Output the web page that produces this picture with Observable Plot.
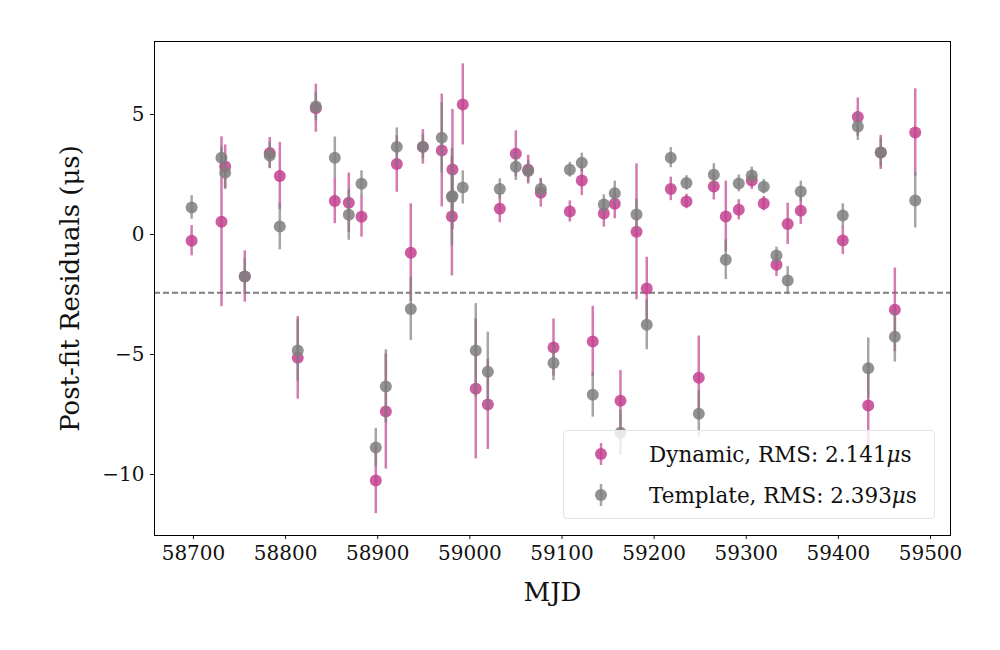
<!DOCTYPE html>
<html>
<head>
<meta charset="utf-8">
<script src="https://cdn.jsdelivr.net/npm/d3@7"></script>
<script src="https://cdn.jsdelivr.net/npm/@observablehq/plot@0.6"></script>
<style>
  body { margin: 0; background: #fff; }
  #wrap { position: relative; width: 1000px; height: 650px; font-family: "DejaVu Serif", serif; }
  #legend {
    position: absolute; left: 563px; top: 430px; width: 372px; height: 89px;
    background: rgba(255,255,255,0.8); border: 1px solid #e4e4e4; border-radius: 4px;
    box-sizing: border-box; font-family: "DejaVu Serif", serif; font-size: 21.5px; color: #111;
  }
  .row { position: absolute; left: 0; height: 40px; display: flex; align-items: center; }
  .row svg { position: absolute; left: 26px; }
  .row span { position: absolute; left: 85px; white-space: nowrap; }
</style>
</head>
<body>
<div id="wrap"><div id="chart"></div>
<div id="legend">
  <div class="row" style="top:3px"><svg width="22" height="40"><line x1="11" x2="11" y1="9" y2="31" stroke="#c2418f" stroke-opacity="0.7" stroke-width="2.5"/><circle cx="11" cy="20" r="6" fill="#c2418f" fill-opacity="0.85"/></svg><span>Dynamic, RMS: 2.141<i>μ</i>s</span></div>
  <div class="row" style="top:44px"><svg width="22" height="40"><line x1="11" x2="11" y1="9" y2="31" stroke="#7f7f7f" stroke-opacity="0.7" stroke-width="2.5"/><circle cx="11" cy="20" r="6" fill="#7f7f7f" fill-opacity="0.85"/></svg><span>Template, RMS: 2.393<i>μ</i>s</span></div>
</div>
</div>
<script>
const mjd = [58698, 58730.4, 58734.4, 58755.7, 58782.8, 58793.7, 58813.2, 58832.8, 58853.4, 58868.6,
  58882.4, 58897.9, 58908.8, 58920.7, 58935.9, 58949, 58969.5, 58981.1, 58980.5, 58992.3,
  59006.4, 59019.5, 59032.5, 59049.9, 59063.3, 59077, 59090.8, 59108.5, 59121.5, 59133.4,
  59145.4, 59157.3, 59163.5, 59180.9, 59192, 59218.1, 59235.1, 59248.5, 59264.8, 59277.8,
  59291.9, 59306, 59319, 59332.8, 59345, 59359.2, 59404.8, 59421.1, 59432.4, 59446,
  59461.3, 59483.4];
const dynRes = [-0.26, 0.53, 2.83, -1.75, 3.4, 2.44, -5.14, 5.26, 1.4, 1.32,
  0.74, -10.25, -7.375, 2.94, -0.76, 3.65, 3.5, 2.71, 0.75, 5.42,
  -6.43, -7.08, 1.07, 3.36, 2.7, 1.74, -4.71, 0.96, 2.25, -4.46,
  0.875, 1.28, -6.93, 0.11, -2.25, 1.9, 1.375, -5.97, 2.0, 0.75,
  1.03, 2.25, 1.29, -1.26, 0.44, 0.99, -0.25, 4.89, -7.125, 3.42,
  -3.14, 4.25];
const dynErr = [0.63, 3.54, 0.9, 1.07, 0.64, 1.4, 1.72, 1.0, 0.95, 1.24,
  0.85, 1.38, 2.4, 1.18, 2.04, 0.72, 2.35, 2.5, 2.48, 1.69,
  2.92, 1.875, 0.58, 0.96, 0.6, 0.6, 1.19, 0.44, 0.63, 1.47,
  0.57, 0.625, 1.26, 2.83, 1.3, 0.49, 0.3, 1.74, 0.56, 1.47,
  0.42, 0.37, 0.3, 0.49, 0.86, 0.57, 0.58, 0.8, 1.75, 0.71,
  1.74, 1.82];
const tmplRes = [1.125, 3.2, 2.57, -1.75, 3.29, 0.33, -4.83, 5.33, 3.2, 0.82,
  2.11, -8.875, -6.33, 3.65, -3.1, 3.65, 4.03, 1.6, 1.56, 1.96,
  -4.83, -5.72, 1.9, 2.82, 2.64, 1.9, -5.35, 2.7, 2.99, -6.68,
  1.25, 1.72, -8.26, 0.83, -3.76, 3.2, 2.15, -7.47, 2.49, -1.05,
  2.125, 2.46, 1.99, -0.875, -1.92, 1.79, 0.79, 4.5, -5.57, 3.42,
  -4.26, 1.42];
const tmplErr = [0.49, 0.45, 0.7, 0.75, 0.55, 0.97, 1.28, 0.6, 0.86, 1.06,
  0.54, 0.8, 1.53, 0.79, 1.32, 0.5, 1.47, 1.0, 2.03, 0.69,
  1.95, 1.65, 0.42, 0.57, 0.45, 0.4, 0.74, 0.31, 0.4, 0.93,
  0.4, 0.5, 0.94, 0.65, 1.04, 0.42, 0.3, 0.97, 0.46, 0.83,
  0.35, 0.35, 0.3, 0.35, 0.58, 0.43, 0.49, 0.58, 1.26, 0.6,
  1.06, 1.15];
const refLine = [-2.43];
const xTicks = [58700, 58800, 58900, 59000, 59100, 59200, 59300, 59400, 59500];
const yTicks = [-10, -5, 0, 5];

const dyn = mjd.map((m, i) => ({mjd: m, y: dynRes[i], e: dynErr[i]}));
const tmpl = mjd.map((m, i) => ({mjd: m, y: tmplRes[i], e: tmplErr[i]}));
const pink = "#c2418f", gray = "#7f7f7f";
const fmtY = d => d < 0 ? "\u2212" + Math.abs(d) : String(d);

const chart = Plot.plot({
  width: 1000, height: 650,
  marginLeft: 154, marginRight: 50, marginTop: 41, marginBottom: 115,
  style: {fontFamily: "DejaVu Serif, serif", background: "white", color: "#111"},
  x: {domain: [58657.7, 59521.7]},
  y: {domain: [-12.54, 8.04]},
  marks: [
    Plot.ruleY(refLine, {stroke: "#808080", strokeWidth: 2, strokeDasharray: "6,3"}),
    Plot.ruleX(dyn, {x: "mjd", y1: d => d.y - d.e, y2: d => d.y + d.e, stroke: pink, strokeOpacity: 0.7, strokeWidth: 2.5}),
    Plot.dot(dyn, {x: "mjd", y: "y", r: 6, fill: pink, fillOpacity: 0.85}),
    Plot.ruleX(tmpl, {x: "mjd", y1: d => d.y - d.e, y2: d => d.y + d.e, stroke: gray, strokeOpacity: 0.7, strokeWidth: 2.5}),
    Plot.dot(tmpl, {x: "mjd", y: "y", r: 6, fill: gray, fillOpacity: 0.85}),
    Plot.axisX({ticks: xTicks, tickFormat: d => String(d), tickSize: 4, tickPadding: 6, fontSize: 20, label: null}),
    Plot.axisX({ticks: [], tickSize: 0, label: "MJD", labelAnchor: "center", labelArrow: "none", labelOffset: 65, fontSize: 26}),
    Plot.axisY({ticks: yTicks, tickFormat: fmtY, tickSize: 4, tickPadding: 6, fontSize: 20, label: null}),
    Plot.axisY({ticks: [], tickSize: 0, label: "Post-fit Residuals (μs)", labelAnchor: "center", labelArrow: "none", labelOffset: 94, fontSize: 26}),
    Plot.frame({stroke: "black", strokeWidth: 1})
  ]
});
document.getElementById("chart").appendChild(chart);
</script>
</body>
</html>
